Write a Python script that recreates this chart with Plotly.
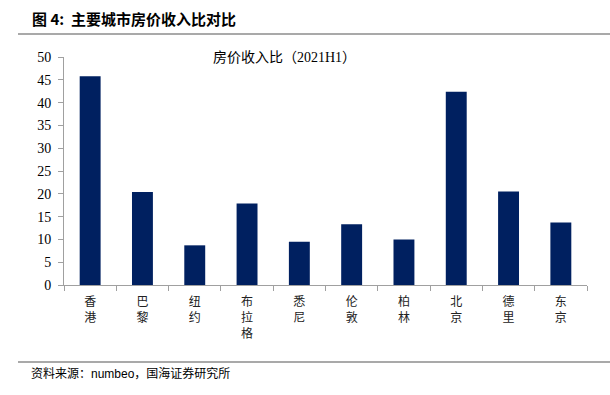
import plotly.graph_objects as go

categories = ["香港", "巴黎", "纽约", "布拉格", "悉尼", "伦敦", "柏林", "北京", "德里", "东京"]
values = [45.8, 20.4, 8.7, 17.9, 9.5, 13.3, 10.0, 42.4, 20.5, 13.7]
y_ticks = [0, 5, 10, 15, 20, 25, 30, 35, 40, 45, 50]

labels = ["<br>".join(list(c)) for c in categories]

W, H = 610, 395
L, R, T, B = 64, 23, 57, 110
PW, PH = W - L - R, H - T - B


def px(x):
    return (x - L) / PW


def py(y):
    return 1 - (y - T) / PH


fig = go.Figure()
fig.add_trace(go.Bar(
    x=labels, y=values,
    marker=dict(color="#002060", line=dict(width=0)),
    width=0.4,
))

fig.update_layout(
    width=W, height=H,
    margin=dict(l=L, r=R, t=T, b=B, pad=0),
    paper_bgcolor="white", plot_bgcolor="white",
    showlegend=False,
    font=dict(family="Liberation Serif, Noto Sans CJK SC", size=13, color="#000000"),
    xaxis=dict(
        type="category",
        showline=True, linecolor="#a0a0a0", linewidth=1,
        ticks="outside", tickson="boundaries", ticklen=5, tickcolor="#a0a0a0",
        tickfont=dict(family="Noto Sans CJK SC", size=12, color="#222"),
        ticklabelstandoff=6,
        showgrid=False,
    ),
    yaxis=dict(
        range=[0, 50], tickvals=y_ticks,
        showline=True, linecolor="#a0a0a0", linewidth=1,
        ticks="outside", ticklen=5, tickcolor="#a0a0a0",
        tickfont=dict(family="Liberation Serif", size=14, color="#000"),
        ticklabelstandoff=4,
        showgrid=False, zeroline=False,
    ),
)

# header
fig.add_annotation(xref="paper", yref="paper", x=px(30), y=py(19),
                   text="<b>图 4:  主要城市房价收入比对比</b>", showarrow=False,
                   xanchor="left", yanchor="middle",
                   font=dict(family="Noto Sans CJK SC", size=15, color="#000"))
fig.add_shape(type="line", xref="paper", yref="paper",
              x0=px(18), x1=px(610), y0=py(34), y1=py(34),
              line=dict(color="#8c8c8c", width=1.5))
# chart title
fig.add_annotation(xref="paper", yref="paper", x=px(284), y=py(57),
                   text="房价收入比（2021H1）", showarrow=False,
                   xanchor="center", yanchor="middle",
                   font=dict(family="Liberation Serif, Noto Sans CJK SC", size=14, color="#000"))
# source line and text
fig.add_shape(type="line", xref="paper", yref="paper",
              x0=px(18), x1=px(610), y0=py(362), y1=py(362),
              line=dict(color="#8c8c8c", width=1.5))
fig.add_annotation(xref="paper", yref="paper", x=px(29), y=py(373),
                   text="资料来源：numbeo，国海证券研究所", showarrow=False,
                   xanchor="left", yanchor="middle",
                   font=dict(family="Liberation Sans, Noto Sans CJK SC", size=12, color="#000"))

fig.write_html("out.html", config={"displayModeBar": False},
               post_script="document.body.style.margin='0px';")
